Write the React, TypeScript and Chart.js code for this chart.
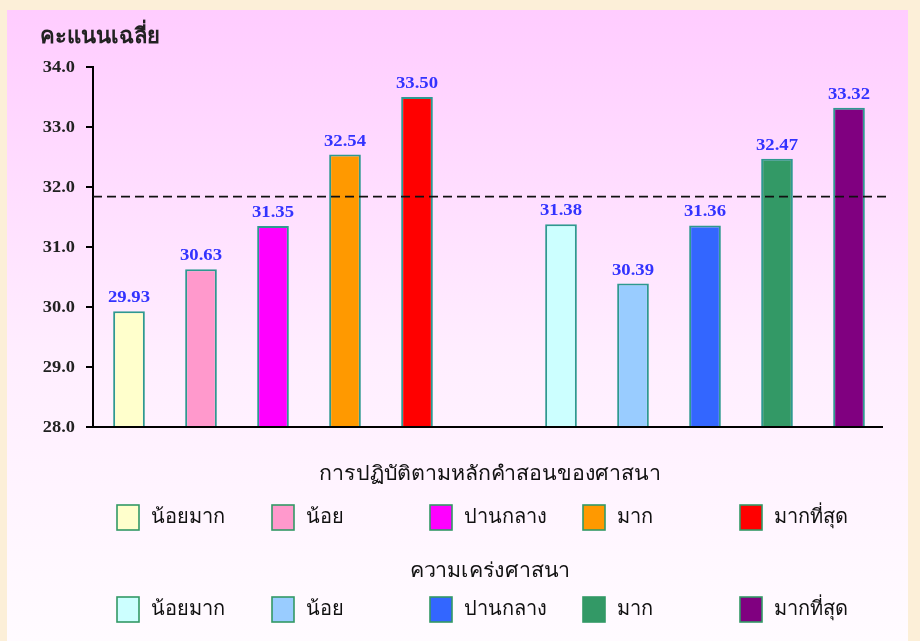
import React, { useEffect, useRef } from "react";
import { Chart, registerables } from "chart.js";

Chart.register(...registerables);

// ---------- data ----------
const categories = [
  "น้อยมาก", "น้อย", "ปานกลาง", "มาก", "มากที่สุด",
  "",
  "น้อยมาก ", "น้อย ", "ปานกลาง ", "มาก ", "มากที่สุด ",
];
const scores: (number | null)[] = [29.93, 30.63, 31.35, 32.54, 33.5, null, 31.38, 30.39, 31.36, 32.47, 33.32];
const practiceColors = ["#FFFFCC", "#FF99CC", "#FF00FF", "#FF9900", "#FF0000"];
const devoutColors = ["#CCFFFF", "#99CCFF", "#3366FF", "#339966", "#800080"];
const barColors = [...practiceColors, "rgba(0,0,0,0)", ...devoutColors];
const overallMean = 31.84;
const yMin = 28;
const yMax = 34;
const yStep = 1;
const yTitle = "คะแนนเฉลี่ย";
const groupTitles = ["การปฏิบัติตามหลักคำสอนของศาสนา", "ความเคร่งศาสนา"];
const levelLabels = ["น้อยมาก", "น้อย", "ปานกลาง", "มาก", "มากที่สุด"];
const groupColors = [practiceColors, devoutColors];

// ---------- style ----------
const SERIF = "'Liberation Serif', 'Times New Roman', serif";
const THAI = "'Liberation Serif', serif";
const legendX = [117, 272, 430, 583, 740];
const legendBoxTop = [505, 597];
const legendTitleY = [475, 572];

function stretchedText(ctx: any, text: string, x: number, y: number, sx: number) {
  ctx.save();
  ctx.translate(x, y);
  ctx.scale(sx, 1);
  ctx.fillText(text, 0, 0);
  ctx.restore();
}

const decorPlugin = {
  id: "decor",
  beforeDraw(chart: any) {
    const { ctx, width, height } = chart;
    ctx.save();
    ctx.fillStyle = "#FCEFD8";
    ctx.fillRect(0, 0, width, height);
    const g = ctx.createLinearGradient(0, 10, 0, height);
    g.addColorStop(0, "#FFCCFF");
    g.addColorStop(0.55, "#FFEEFF");
    g.addColorStop(1, "#FFFBFF");
    ctx.fillStyle = g;
    ctx.fillRect(7, 10, 901, height - 10);
    ctx.restore();
  },
  afterDatasetsDraw(chart: any) {
    const { ctx, chartArea, scales } = chart;
    const y = scales.y;
    ctx.save();
    // x axis line
    ctx.strokeStyle = "#000";
    ctx.lineWidth = 2;
    ctx.beginPath();
    ctx.moveTo(chartArea.left - 7, chartArea.bottom);
    ctx.lineTo(chartArea.right - 2, chartArea.bottom);
    ctx.stroke();
    // y tick labels
    ctx.fillStyle = "#222";
    ctx.font = `bold 16px ${SERIF}`;
    ctx.textAlign = "right";
    ctx.textBaseline = "middle";
    y.ticks.forEach((t: any) => {
      stretchedText(ctx, Number(t.value).toFixed(1), chartArea.left - 18, y.getPixelForValue(t.value) + 1, 1.15);
    });
    // mean dashed line
    const my = y.getPixelForValue(overallMean);
    ctx.setLineDash([9, 5]);
    ctx.lineWidth = 1.6;
    ctx.strokeStyle = "#111";
    ctx.beginPath();
    ctx.moveTo(chartArea.left, my);
    ctx.lineTo(chartArea.right + 1, my);
    ctx.stroke();
    ctx.setLineDash([]);
    // value labels
    const meta = chart.getDatasetMeta(0);
    ctx.fillStyle = "#3333FF";
    ctx.font = `bold 17px ${SERIF}`;
    ctx.textAlign = "center";
    ctx.textBaseline = "alphabetic";
    meta.data.forEach((bar: any, i: number) => {
      const v = scores[i];
      if (v == null) return;
      stretchedText(ctx, v.toFixed(2), bar.x, bar.y - 9, 1.1);
    });
    ctx.restore();
  },
  afterDraw(chart: any) {
    const { ctx } = chart;
    ctx.save();
    ctx.fillStyle = "#222";
    ctx.font = `bold 22px ${THAI}`;
    ctx.textAlign = "left";
    ctx.textBaseline = "middle";
    ctx.fillText(yTitle, 40, 37);

    groupTitles.forEach((t, gi) => {
      ctx.font = `20px ${THAI}`;
      ctx.textAlign = "center";
      ctx.fillStyle = "#111";
      stretchedText(ctx, t, 490, legendTitleY[gi], 1.07);
      levelLabels.forEach((lab, li) => {
        const bx = legendX[li];
        const by = legendBoxTop[gi];
        ctx.fillStyle = groupColors[gi][li];
        ctx.fillRect(bx, by, 22, 25);
        ctx.strokeStyle = "#339966";
        ctx.lineWidth = 1.6;
        ctx.strokeRect(bx, by, 22, 25);
        ctx.fillStyle = "#111";
        ctx.textAlign = "left";
        ctx.font = `20px ${THAI}`;
        ctx.fillText(lab, bx + 34, by + 13);
      });
    });
    ctx.restore();
  },
};

export default function App() {
  const ref = useRef<HTMLCanvasElement>(null);
  useEffect(() => {
    document.body.style.margin = "0";
    const chart = new Chart(ref.current!, {
      type: "bar",
      data: {
        labels: categories,
        datasets: [
          {
            data: scores,
            base: yMin,
            backgroundColor: barColors,
            borderColor: "#2E9990",
            borderWidth: 2,
            barPercentage: 0.44,
            categoryPercentage: 1,
          } as any,
        ],
      },
      options: {
        responsive: false,
        animation: false,
        devicePixelRatio: 1,
        layout: { padding: { left: 0, top: 67, right: 35, bottom: 214 } },
        plugins: { legend: { display: false }, tooltip: { enabled: false } },
        scales: {
          x: { display: false, offset: true },
          y: {
            min: yMin,
            max: yMax,
            afterFit: (s: any) => {
              s.width = 93;
            },
            border: { color: "#000", width: 2 },
            grid: { drawOnChartArea: false, tickLength: 7, color: "#000", lineWidth: 2 },
            ticks: {
              display: false,
              stepSize: yStep,
            },
          },
        },
      },
      plugins: [decorPlugin],
    });
    return () => chart.destroy();
  }, []);
  return (
    <div style={{ width: 920, height: 641 }}>
      <canvas ref={ref} width={920} height={641} />
    </div>
  );
}
